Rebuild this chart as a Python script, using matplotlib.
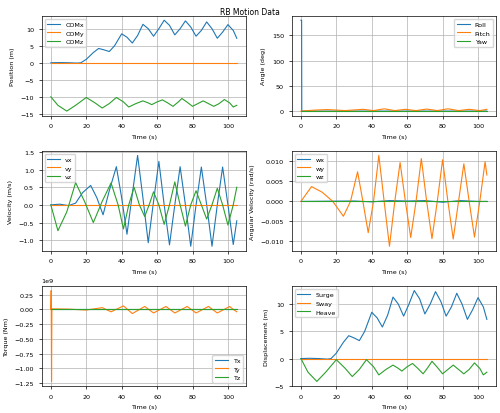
import numpy as np
import matplotlib.pyplot as plt

# values (key points: peaks, troughs, crossings)
t_comx = [0, 5, 10, 15, 17, 20, 24, 27, 30, 33, 36, 40, 43, 46, 49, 52, 55, 58, 61, 64, 67, 70, 73,
          76, 79, 82, 85, 88, 91, 94, 97, 100, 103, 105]
comx = [0, 0.05, 0, -0.1, 0, 1.0, 3.0, 4.2, 3.8, 3.3, 5.0, 8.5, 7.5, 5.8, 8.0, 11.3, 10.0, 7.8, 10.0,
        12.5, 11.0, 8.2, 10.0, 12.3, 10.5, 7.8, 9.5, 12.0, 10.0, 7.2, 9.0, 11.2, 9.5, 7.2]
t_comz = [0, 4, 9, 14, 20, 25, 29, 33, 37, 41, 44, 48, 52, 55, 57, 60, 63, 66, 69, 72, 74, 77, 80,
          83, 86, 89, 92, 95, 98, 101, 103, 105]
comz = [-10, -12.5, -14.2, -12.5, -10.2, -11.8, -13.3, -12.0, -10.2, -11.5, -13.0, -12.0, -11.2,
        -11.8, -12.3, -11.5, -10.9, -11.8, -12.8, -11.5, -10.5, -11.6, -12.8, -12.0, -11.2, -12.0,
        -12.8, -12.0, -10.8, -11.8, -13.0, -12.5]

t_roll = [0, 0.4, 0.5, 105]
roll = [180, 180, 0, 0]
t_pitch = [0, 8, 15, 25, 35, 41, 47, 53, 59, 65, 71, 77, 83, 89, 95, 101, 105]
pitch = [0, 2, 3, 1, 3.5, 1, 4.5, 1, 3.5, 1, 4, 1, 4.5, 1, 3.5, 1, 3.5]

t_vx = [0, 5, 10, 14, 18, 22.5, 26, 29.5, 33, 37, 40, 43, 46, 49, 52, 55, 58, 61, 64, 67, 70, 73,
        76, 79, 82, 85, 88, 91, 94, 97, 100, 103, 105]
vx = [0, 0.02, -0.02, 0.05, 0.35, 0.55, 0.2, -0.28, 0.4, 1.08, 0.2, -0.83, 0.3, 1.4, 0.2, -1.07,
      0.1, 1.23, 0, -1.13, 0, 1.08, 0, -1.17, 0, 1.07, 0, -1.17, 0, 1.07, 0, -1.12, -0.45]
t_vz = [0, 4, 9, 14, 19, 24, 29, 34, 38, 41, 44, 47, 50, 53, 55.5, 58, 61, 64, 67, 70, 73, 76, 79,
        82, 85, 88, 91, 94, 97, 100, 103, 105]
vz = [0, -0.73, -0.2, 0.63, 0.1, -0.5, 0.1, 0.62, 0, -0.68, 0, 0.5, 0, -0.33, 0, 0.37, 0, -0.55, 0,
      0.65, 0, -0.6, 0, 0.4, 0, -0.4, 0, 0.47, 0, -0.57, 0, 0.5]

t_wy = [0, 6, 12, 18, 24, 28, 32, 35, 38, 41, 44, 47, 50, 53, 56, 59, 62, 65, 68, 71, 74, 77, 80,
        83, 86, 89, 92, 95, 98, 101, 104, 105]
wy = [0, 0.0037, 0.0023, 0, -0.0037, 0, 0.0074, 0, -0.0078, 0, 0.0115, 0, -0.0112, 0, 0.0097, 0,
      -0.009, 0, 0.0107, 0, -0.0093, 0, 0.0104, 0, -0.0094, 0, 0.0094, 0, -0.0089, 0, 0.0099, 0.0066]
t_wx = [0, 30, 40, 50, 60, 70, 80, 90, 100, 105]
wx = [0, 0.0001, -0.0001, 0.0002, 0.0001, 0.0002, -0.0002, 0.0002, 0, 0]

t_ty = [0, 0.2, 0.4, 0.6, 10, 20, 29, 34, 41, 46, 53, 58, 65, 70, 77, 82, 89, 94, 101, 103, 105]
ty = [0, 0.32e9, -1.22e9, 0.01e9, 0.005e9, -0.01e9, 0.03e9, -0.04e9, 0.06e9, -0.07e9, 0.05e9,
      -0.06e9, 0.05e9, -0.06e9, 0.05e9, -0.06e9, 0.05e9, -0.06e9, 0.05e9, 0.0, -0.04e9]

t_end = [0, 105]
zeros = [0, 0]

plt.rcParams['font.size'] = 4.6
plt.rcParams['lines.linewidth'] = 0.8
plt.rcParams['axes.linewidth'] = 0.5
plt.rcParams['xtick.major.width'] = 0.5
plt.rcParams['ytick.major.width'] = 0.5
plt.rcParams['xtick.major.size'] = 2
plt.rcParams['ytick.major.size'] = 2
plt.rcParams['grid.linewidth'] = 0.5
fig, axes = plt.subplots(3, 2, figsize=(5, 4.14), dpi=100)
fig.suptitle("RB Motion Data", fontsize=5.5)

ax = axes[0, 0]
ax.plot(t_comx, comx, label="COMx")
ax.plot(t_end, zeros, label="COMy")
ax.plot(t_comz, comz, label="COMz")
ax.set_ylabel("Position (m)")
ax.legend(loc="upper left")

ax = axes[0, 1]
ax.plot(t_roll, roll, label="Roll")
ax.plot(t_pitch, pitch, label="Pitch")
ax.plot(t_end, zeros, label="Yaw")
ax.set_ylabel("Angle (deg)")
ax.legend(loc="upper right")

ax = axes[1, 0]
ax.plot(t_vx, vx, label="vx")
ax.plot(t_end, zeros, label="vy")
ax.plot(t_vz, vz, label="vz")
ax.set_ylabel("Velocity (m/s)")
ax.legend(loc="upper left")

ax = axes[1, 1]
ax.plot(t_wx, wx, label="wx")
ax.plot(t_wy, wy, label="wy")
ax.plot(t_end, zeros, label="wz")
ax.set_ylabel("Angular Velocity (rad/s)")
ax.legend(loc="upper left")

ax = axes[2, 0]
ax.plot(t_end, zeros, label="Tx")
ax.plot(t_ty, ty, label="Ty")
ax.plot(t_end, zeros, label="Tz")
ax.set_ylabel("Torque (Nm)")
ax.legend(loc="lower right")

ax = axes[2, 1]
ax.plot(t_comx, comx, label="Surge")
ax.plot(t_end, zeros, label="Sway")
ax.plot(t_comz, np.array(comz) - comz[0], label="Heave")
ax.set_ylabel("Displacement (m)")
ax.legend(loc="upper left")

for ax in axes.flat:
    ax.set_xlabel("Time (s)")
    ax.grid(True)

plt.tight_layout(pad=0.6)
plt.savefig("out.png")
